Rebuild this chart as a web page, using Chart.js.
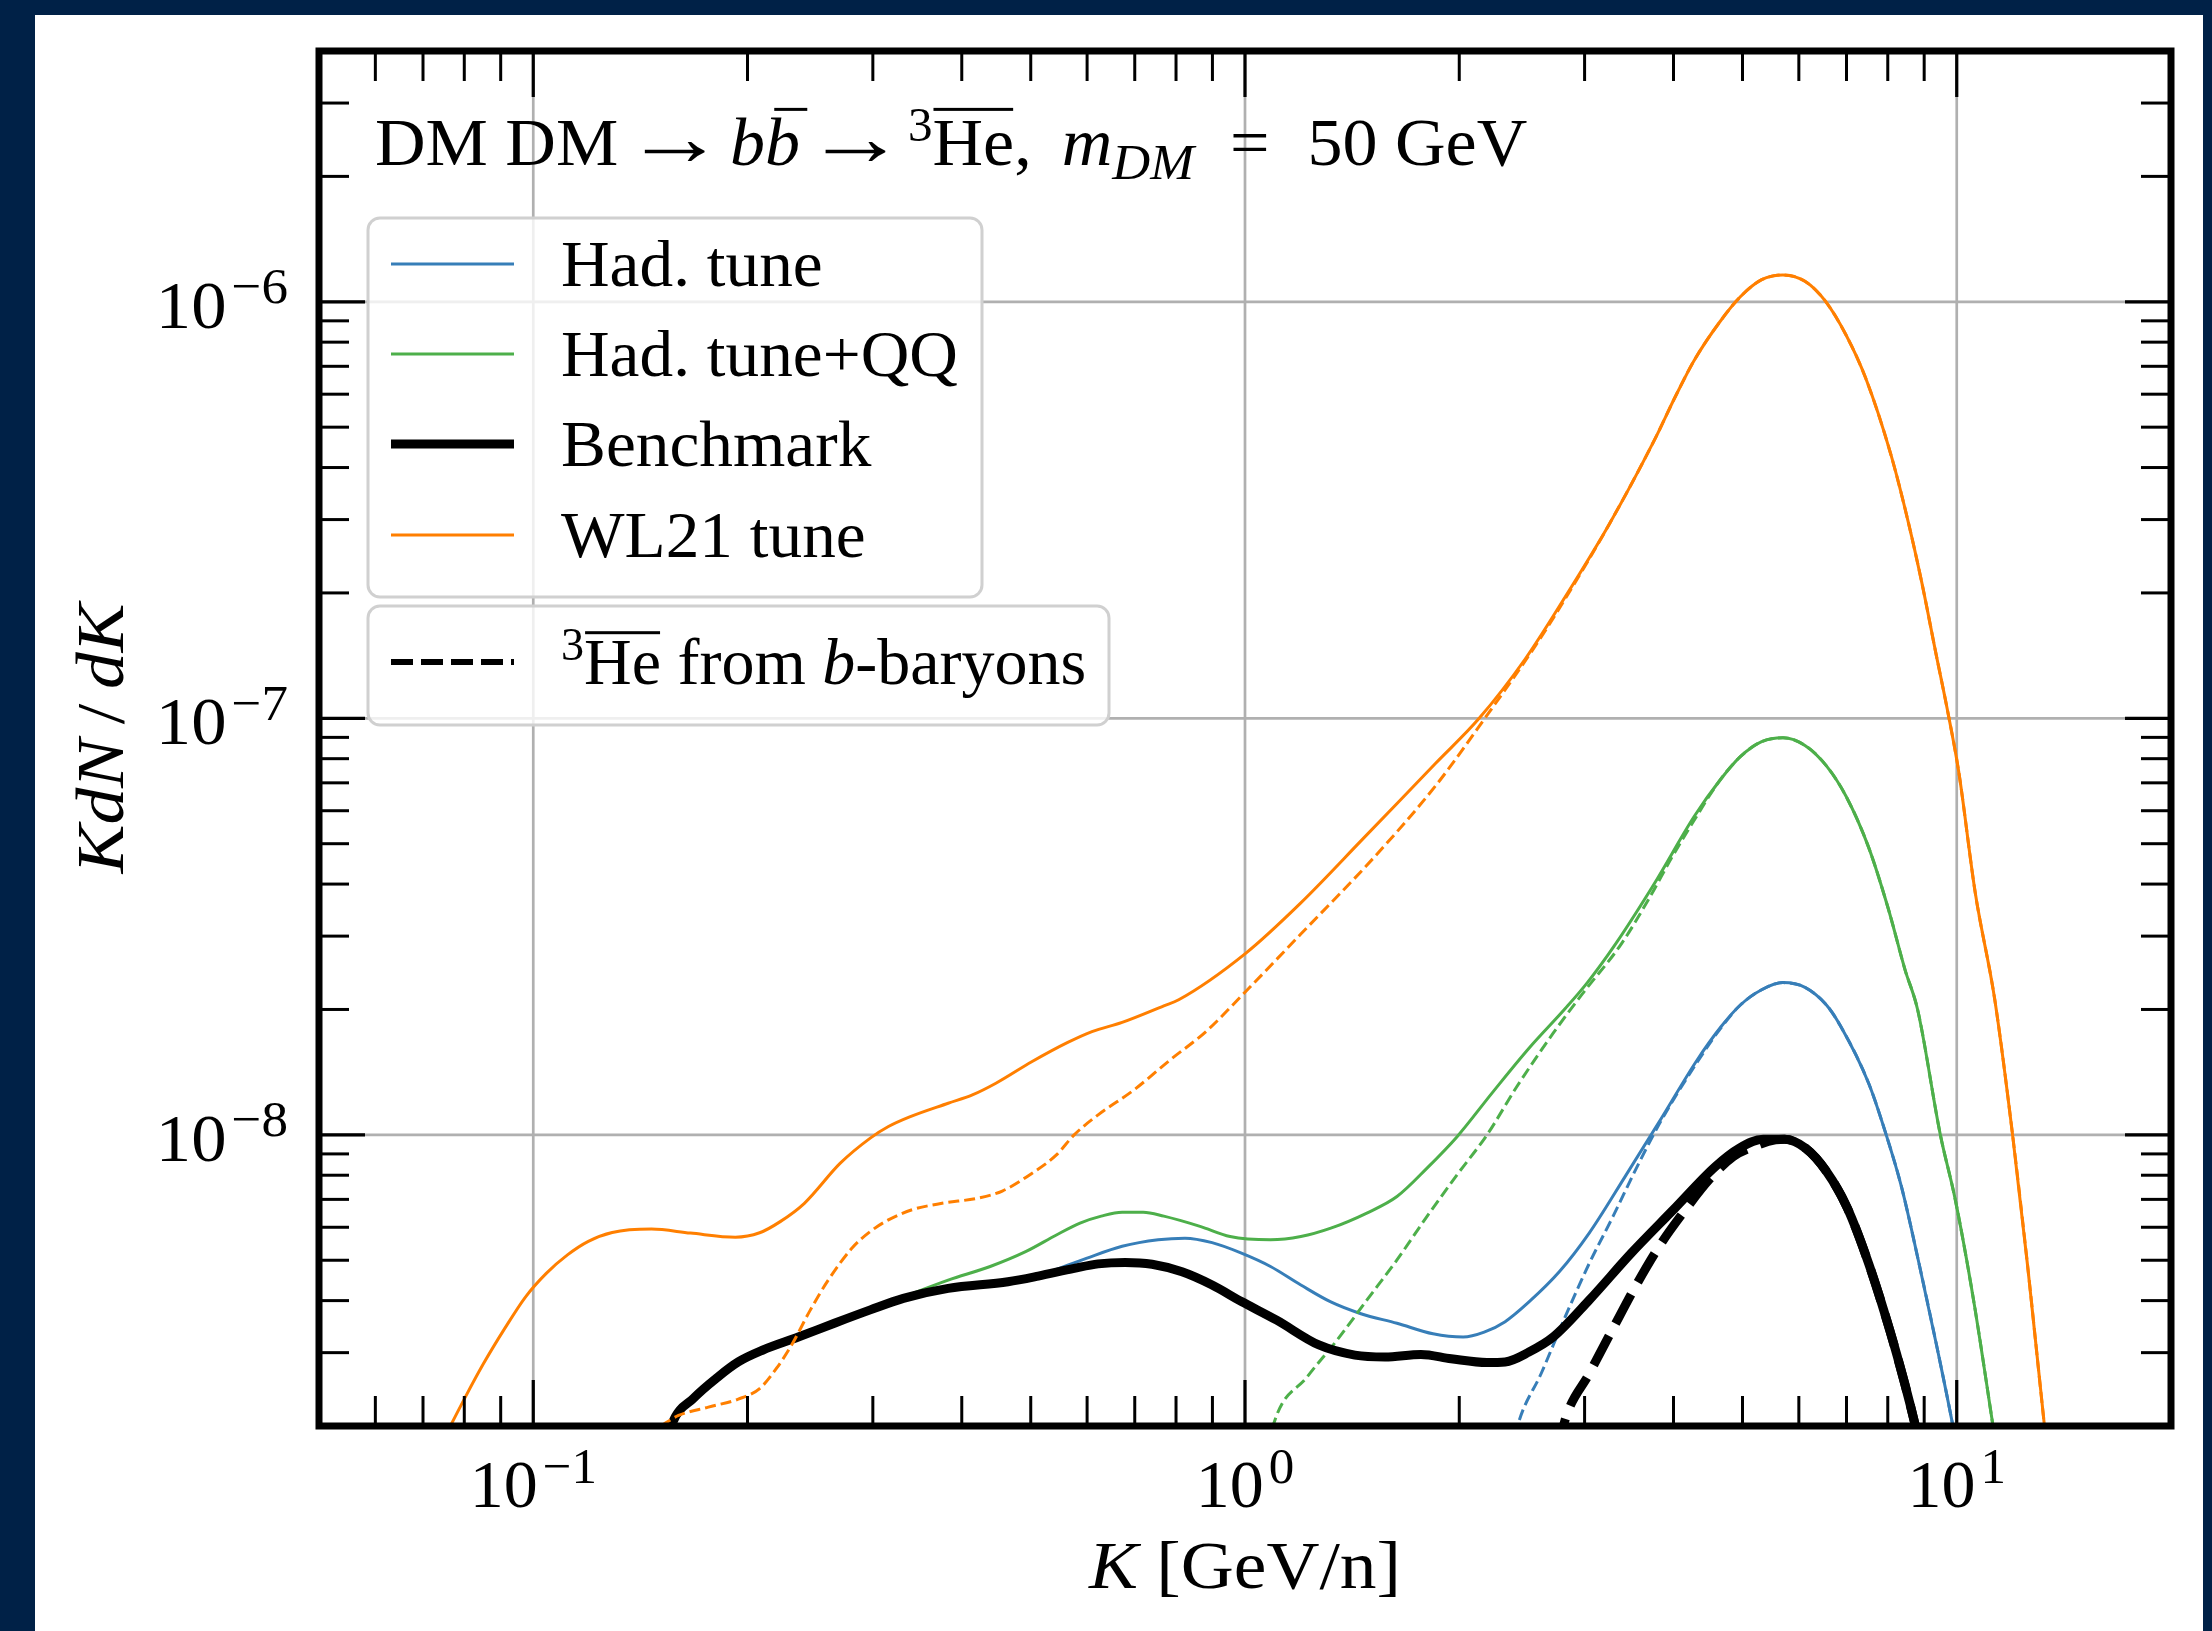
<!DOCTYPE html>
<html>
<head>
<meta charset="utf-8">
<title>Antihelium-3 spectra</title>
<script src="https://cdn.jsdelivr.net/npm/chart.js@4.4.1/dist/chart.umd.min.js"></script>
<style>
  html, body { margin: 0; padding: 0; background: #002147; overflow: hidden; }
  #panel { position: absolute; left: 35px; top: 15px; width: 2168px; height: 1616px; background: #ffffff; }
  #spectrum { position: absolute; left: 0; top: 0; }
</style>
</head>
<body>
<div id="panel"></div>
<canvas id="spectrum" width="2212" height="1631"></canvas>
<script>
// K [GeV/n] and K dN/dK for each tune

// Benchmark
const benchK = [0.1531, 0.1568, 0.1679, 0.1816, 0.1941, 0.2099, 0.2357, 0.2649, 0.2975, 0.3311, 0.3828, 0.4645, 0.5122, 0.5754, 0.6218, 0.6785, 0.7404, 0.8156, 0.899, 0.9886, 1.108, 1.27, 1.427, 1.573, 1.767, 1.948, 2.188, 2.32, 2.506, 2.71, 3.045, 3.489, 3.998, 4.579, 4.95, 5.346, 5.728, 6.13, 6.56, 7.02, 7.52, 8.05, 8.45, 8.73, 8.91];
const benchVals = [1.74e-9, 2.03e-9, 2.33e-9, 2.62e-9, 2.85e-9, 3.04e-9, 3.27e-9, 3.53e-9, 3.80e-9, 4.05e-9, 4.28e-9, 4.44e-9, 4.58e-9, 4.78e-9, 4.90e-9, 4.94e-9, 4.89e-9, 4.69e-9, 4.36e-9, 3.98e-9, 3.59e-9, 3.13e-9, 2.96e-9, 2.93e-9, 2.97e-9, 2.90e-9, 2.84e-9, 2.85e-9, 3.01e-9, 3.27e-9, 4.01e-9, 5.20e-9, 6.61e-9, 8.39e-9, 9.29e-9, 9.76e-9, 9.76e-9, 9.29e-9, 8.17e-9, 6.67e-9, 4.91e-9, 3.40e-9, 2.53e-9, 2.03e-9, 1.74e-9];
const benchBaryonK = [2.754, 2.817, 3.045, 3.289, 3.556, 3.846, 4.156, 4.487, 4.853, 5.195, 5.56, 5.728, 6.13, 6.56, 7.02, 7.52, 8.05, 8.45, 8.73, 8.91];
const benchBaryonVals = [1.74e-9, 2.07e-9, 2.67e-9, 3.43e-9, 4.40e-9, 5.50e-9, 6.61e-9, 7.80e-9, 8.87e-9, 9.38e-9, 9.73e-9, 9.76e-9, 9.29e-9, 8.17e-9, 6.67e-9, 4.91e-9, 3.40e-9, 2.53e-9, 2.03e-9, 1.74e-9];

// Had. tune
const hadK = [0.1531, 0.1568, 0.1679, 0.1816, 0.1941, 0.2099, 0.2357, 0.2649, 0.2975, 0.3311, 0.3828, 0.4645, 0.5122, 0.5483, 0.5984, 0.672, 0.7551, 0.8235, 0.899, 0.9886, 1.086, 1.198, 1.32, 1.455, 1.635, 1.837, 2.025, 2.168, 2.32, 2.506, 2.764, 3.045, 3.42, 3.846, 4.32, 4.667, 4.966, 5.32, 5.70, 6.12, 6.56, 6.86, 7.52, 7.96, 8.36, 8.87, 9.40, 9.86, 10.07];
const hadVals = [1.74e-9, 2.03e-9, 2.33e-9, 2.62e-9, 2.85e-9, 3.04e-9, 3.27e-9, 3.53e-9, 3.80e-9, 4.05e-9, 4.28e-9, 4.44e-9, 4.58e-9, 4.78e-9, 5.05e-9, 5.40e-9, 5.60e-9, 5.65e-9, 5.51e-9, 5.20e-9, 4.83e-9, 4.36e-9, 3.97e-9, 3.72e-9, 3.53e-9, 3.33e-9, 3.27e-9, 3.36e-9, 3.56e-9, 3.97e-9, 4.69e-9, 5.81e-9, 7.94e-9, 1.096e-8, 1.515e-8, 1.82e-8, 2.05e-8, 2.23e-8, 2.32e-8, 2.26e-8, 2.05e-8, 1.83e-8, 1.33e-8, 1.0e-8, 7.52e-9, 4.83e-9, 3.04e-9, 2.03e-9, 1.66e-9];
const hadBaryonK = [2.371, 2.421, 2.606, 2.818, 3.045, 3.289, 3.556, 3.846, 4.32, 4.667, 4.966, 5.32, 5.70, 6.12, 6.56, 6.86, 7.52, 7.96, 8.36, 8.87, 9.40, 9.86, 10.07];
const hadBaryonVals = [1.74e-9, 2.03e-9, 2.67e-9, 3.66e-9, 4.91e-9, 6.37e-9, 8.39e-9, 1.084e-8, 1.496e-8, 1.81e-8, 2.05e-8, 2.23e-8, 2.32e-8, 2.26e-8, 2.05e-8, 1.83e-8, 1.33e-8, 1.0e-8, 7.52e-9, 4.83e-9, 3.04e-9, 2.03e-9, 1.66e-9];

// Had. tune+QQ
const qqK = [0.1531, 0.1568, 0.1679, 0.1816, 0.1941, 0.2099, 0.2357, 0.2649, 0.2975, 0.3311, 0.3828, 0.4385, 0.4926, 0.5433, 0.5864, 0.6281, 0.672, 0.7194, 0.769, 0.8646, 0.9528, 1.086, 1.198, 1.32, 1.483, 1.635, 1.802, 1.986, 2.232, 2.506, 2.818, 3.027, 3.315, 3.766, 4.276, 4.642, 4.965, 5.32, 5.70, 6.12, 6.56, 6.99, 7.52, 8.01, 8.46, 8.81, 9.484, 9.954, 10.56, 11.23, 11.48];
const qqVals = [1.74e-9, 2.03e-9, 2.33e-9, 2.62e-9, 2.85e-9, 3.04e-9, 3.27e-9, 3.53e-9, 3.80e-9, 4.08e-9, 4.48e-9, 4.83e-9, 5.25e-9, 5.75e-9, 6.14e-9, 6.38e-9, 6.52e-9, 6.52e-9, 6.38e-9, 6.03e-9, 5.70e-9, 5.60e-9, 5.70e-9, 5.97e-9, 6.49e-9, 7.11e-9, 8.32e-9, 9.9e-9, 1.27e-8, 1.614e-8, 2.01e-8, 2.32e-8, 2.87e-8, 4.03e-8, 5.81e-8, 7.08e-8, 8.09e-8, 8.79e-8, 8.98e-8, 8.61e-8, 7.69e-8, 6.50e-8, 4.90e-8, 3.50e-8, 2.49e-8, 2.0e-8, 1.0e-8, 6.98e-9, 4.01e-9, 2.03e-9, 1.58e-9];
const qqBaryonK = [1.072, 1.098, 1.222, 1.346, 1.483, 1.635, 1.802, 1.986, 2.188, 2.41, 2.71, 2.985, 3.377, 3.698, 3.977, 4.276, 4.642, 4.965, 5.32, 5.70, 6.12, 6.56, 6.99, 7.52, 8.01, 8.46, 8.81, 9.484, 9.954, 10.56, 11.23, 11.48];
const qqBaryonVals = [1.66e-9, 2.03e-9, 2.62e-9, 3.21e-9, 4.01e-9, 5.01e-9, 6.37e-9, 8.02e-9, 1.0e-8, 1.306e-8, 1.754e-8, 2.19e-8, 2.87e-8, 3.70e-8, 4.63e-8, 5.69e-8, 7.08e-8, 8.09e-8, 8.79e-8, 8.98e-8, 8.61e-8, 7.69e-8, 6.50e-8, 4.90e-8, 3.50e-8, 2.49e-8, 2.0e-8, 1.0e-8, 6.98e-9, 4.01e-9, 2.03e-9, 1.58e-9];

// WL21 tune
const wlK = [0.0741, 0.0803, 0.0851, 0.0912, 0.0975, 0.1043, 0.1117, 0.1195, 0.1291, 0.1466, 0.1663, 0.1923, 0.208, 0.2223, 0.2404, 0.27, 0.2975, 0.3155, 0.3373, 0.3828, 0.414, 0.4467, 0.5023, 0.5636, 0.6095, 0.672, 0.769, 0.807, 1.0, 1.197, 1.462, 1.853, 2.133, 2.477, 2.814, 3.255, 3.766, 4.01, 4.276, 4.642, 4.965, 5.32, 5.70, 6.12, 6.53, 6.99, 7.45, 8.08, 8.54, 8.93, 9.35, 9.70, 10.06, 10.62, 11.31, 11.98, 12.58, 13.27, 13.65];
const wlVals = [1.80e-9, 2.35e-9, 2.82e-9, 3.43e-9, 4.08e-9, 4.65e-9, 5.15e-9, 5.55e-9, 5.83e-9, 5.94e-9, 5.81e-9, 5.68e-9, 5.82e-9, 6.19e-9, 6.85e-9, 8.55e-9, 9.82e-9, 1.047e-8, 1.103e-8, 1.191e-8, 1.247e-8, 1.33e-8, 1.50e-8, 1.667e-8, 1.77e-8, 1.862e-8, 2.04e-8, 2.11e-8, 2.72e-8, 3.60e-8, 5.12e-8, 7.80e-8, 1.0e-7, 1.39e-7, 1.95e-7, 2.94e-7, 4.68e-7, 5.85e-7, 7.23e-7, 8.93e-7, 1.028e-6, 1.13e-6, 1.16e-6, 1.12e-6, 1.006e-6, 8.32e-7, 6.55e-7, 4.30e-7, 2.98e-7, 2.12e-7, 1.43e-7, 1.05e-7, 7.48e-8, 3.80e-8, 2.11e-8, 1.0e-8, 4.83e-9, 2.03e-9, 1.32e-9];
const wlBaryonK = [0.145, 0.1532, 0.16, 0.1762, 0.1941, 0.208, 0.2203, 0.2312, 0.2449, 0.2597, 0.2805, 0.2975, 0.3155, 0.3406, 0.3753, 0.4217, 0.456, 0.5023, 0.5433, 0.5754, 0.6218, 0.6982, 0.7852, 0.8814, 1.0, 1.197, 1.517, 1.853, 2.178, 2.57, 2.814, 3.255, 3.766, 4.01, 4.276, 4.642, 4.965, 5.32, 5.70, 6.12, 6.53, 6.99, 7.45, 8.08, 8.54, 8.93, 9.35, 9.70, 10.06, 10.62, 11.31, 11.98, 12.58, 13.27, 13.65];
const wlBaryonVals = [1.90e-9, 2.03e-9, 2.12e-9, 2.22e-9, 2.32e-9, 2.46e-9, 2.77e-9, 3.15e-9, 3.79e-9, 4.48e-9, 5.35e-9, 5.86e-9, 6.25e-9, 6.61e-9, 6.85e-9, 7.05e-9, 7.33e-9, 8.09e-9, 8.95e-9, 1.0e-8, 1.117e-8, 1.282e-8, 1.514e-8, 1.77e-8, 2.2e-8, 3.03e-8, 4.63e-8, 6.89e-8, 1.006e-7, 1.51e-7, 1.93e-7, 2.94e-7, 4.68e-7, 5.85e-7, 7.23e-7, 8.93e-7, 1.028e-6, 1.13e-6, 1.16e-6, 1.12e-6, 1.006e-6, 8.32e-7, 6.55e-7, 4.30e-7, 2.98e-7, 2.12e-7, 1.43e-7, 1.05e-7, 7.48e-8, 3.80e-8, 2.11e-8, 1.0e-8, 4.83e-9, 2.03e-9, 1.32e-9];

// axis ticks
const xMajor = [0.1, 1, 10];
const xMajorExp = ['\u22121', '0', '1'];
const xMinor = [0.05, 0.06, 0.07, 0.08, 0.09, 0.2, 0.3, 0.4, 0.5, 0.6, 0.7, 0.8, 0.9, 2, 3, 4, 5, 6, 7, 8, 9];
const yMajor = [1e-8, 1e-7, 1e-6];
const yMajorExp = ['\u22128', '\u22127', '\u22126'];
const yMinor = [3e-9, 4e-9, 5e-9, 6e-9, 7e-9, 8e-9, 9e-9, 2e-8, 3e-8, 4e-8, 5e-8, 6e-8, 7e-8, 8e-8, 9e-8, 2e-7, 3e-7, 4e-7, 5e-7, 6e-7, 7e-7, 8e-7, 9e-7, 2e-6, 3e-6];

const BLUE = '#377eb8';
const GREEN = '#4daf4a';
const ORANGE = '#ff7f00';
const SERIF = '"Liberation Serif", "DejaVu Serif", serif';
const ARROW = { t: '\u2192', k: 1.2, sx: 1.2 };

function pts(ks, vs) {
  return ks.map((k, i) => ({ x: k, y: vs[i] }));
}

function series(data, color, width, dash, order) {
  return {
    data: data,
    borderColor: color,
    borderWidth: width,
    borderDash: dash,
    borderCapStyle: 'butt',
    borderJoinStyle: 'round',
    cubicInterpolationMode: 'monotone',
    pointRadius: 0,
    fill: false,
    order: order
  };
}

// --- text with italics, super/subscripts and overbars ---
function font(r, size) {
  return (r.it ? 'italic ' : '') + size + 'px ' + (r.fam || SERIF);
}

function runSize(r, size) {
  if (r.k) return size * r.k;
  return (r.sup || r.sub) ? size * 0.7 : size;
}

function runsWidth(ctx, runs, size, sx) {
  let w = 0;
  runs.forEach(r => {
    if (r.gap) { w += r.gap; return; }
    ctx.font = font(r, runSize(r, size));
    w += ctx.measureText(r.t).width * sx * (r.sx || 1);
  });
  return w;
}

function drawRuns(ctx, runs, x, y, size, align, sx) {
  sx = sx || 1;
  const total = runsWidth(ctx, runs, size, sx);
  let cx = x;
  if (align === 'center') cx = x - total / 2;
  if (align === 'right') cx = x - total;
  ctx.textBaseline = 'alphabetic';
  ctx.textAlign = 'left';
  runs.forEach(r => {
    if (r.gap) { cx += r.gap; return; }
    const s = runSize(r, size);
    const rsx = sx * (r.sx || 1);
    ctx.font = font(r, s);
    const dy = r.sup ? -size * 0.36 : (r.sub ? size * 0.2 : 0);
    const w = ctx.measureText(r.t).width * rsx;
    ctx.save();
    ctx.translate(cx, y + dy);
    ctx.scale(rsx, 1);
    ctx.fillText(r.t, 0, 0);
    ctx.restore();
    if (r.bar) {
      const shift = r.it ? s * 0.12 : 0;
      ctx.fillRect(cx + shift + 1, y - size * r.bar, w - 2, 3);
    }
    cx += w;
  });
  return total;
}

function roundBox(ctx, x0, y0, x1, y1, r) {
  ctx.beginPath();
  ctx.moveTo(x0 + r, y0);
  ctx.lineTo(x1 - r, y0);
  ctx.arcTo(x1, y0, x1, y0 + r, r);
  ctx.lineTo(x1, y1 - r);
  ctx.arcTo(x1, y1, x1 - r, y1, r);
  ctx.lineTo(x0 + r, y1);
  ctx.arcTo(x0, y1, x0, y1 - r, r);
  ctx.lineTo(x0, y0 + r);
  ctx.arcTo(x0, y0, x0 + r, y0, r);
  ctx.closePath();
}

const legendRows = [
  { label: [{ t: 'Had. tune' }], color: BLUE, width: 3, y: 264 },
  { label: [{ t: 'Had. tune+QQ' }], color: GREEN, width: 3, y: 354 },
  { label: [{ t: 'Benchmark' }], color: '#000', width: 9, y: 444 },
  { label: [{ t: 'WL21 tune' }], color: ORANGE, width: 3, y: 535 }
];

const frameAndText = {
  id: 'frameAndText',
  beforeDatasetsDraw(chart) {
    const { ctx, chartArea: a, scales: { x, y } } = chart;
    ctx.save();
    ctx.strokeStyle = '#b0b0b0';
    ctx.lineWidth = 2.7;
    xMajor.forEach(v => {
      const px = x.getPixelForValue(v);
      ctx.beginPath(); ctx.moveTo(px, a.top); ctx.lineTo(px, a.bottom); ctx.stroke();
    });
    yMajor.forEach(v => {
      const py = y.getPixelForValue(v);
      ctx.beginPath(); ctx.moveTo(a.left, py); ctx.lineTo(a.right, py); ctx.stroke();
    });
    ctx.restore();
  },
  afterDatasetsDraw(chart) {
    const { ctx, chartArea: a, scales: { x, y } } = chart;
    ctx.save();
    ctx.strokeStyle = '#000';
    ctx.fillStyle = '#000';
    ctx.lineCap = 'butt';

    // ticks on all four sides, pointing inwards
    const seg = (x0, y0, x1, y1) => { ctx.beginPath(); ctx.moveTo(x0, y0); ctx.lineTo(x1, y1); ctx.stroke(); };
    ctx.lineWidth = 3.2;
    xMajor.forEach(v => { const p = x.getPixelForValue(v); seg(p, a.bottom, p, a.bottom - 46); seg(p, a.top, p, a.top + 46); });
    yMajor.forEach(v => { const p = y.getPixelForValue(v); seg(a.left, p, a.left + 46, p); seg(a.right, p, a.right - 46, p); });
    ctx.lineWidth = 3;
    xMinor.forEach(v => { const p = x.getPixelForValue(v); seg(p, a.bottom, p, a.bottom - 30); seg(p, a.top, p, a.top + 30); });
    yMinor.forEach(v => { const p = y.getPixelForValue(v); seg(a.left, p, a.left + 30, p); seg(a.right, p, a.right - 30, p); });

    // frame
    ctx.lineWidth = 7;
    ctx.lineJoin = 'miter';
    ctx.strokeRect(a.left, a.top, a.right - a.left, a.bottom - a.top);

    // tick labels
    const tickSize = 68;
    xMajor.forEach((v, i) => {
      drawRuns(ctx, [{ t: '10' }, { gap: 5 }, { t: xMajorExp[i], sup: true, k: 0.75 }], x.getPixelForValue(v), a.bottom + 81, tickSize, 'center');
    });
    yMajor.forEach((v, i) => {
      drawRuns(ctx, [{ t: '10' }, { gap: 5 }, { t: yMajorExp[i], sup: true, k: 0.75 }], a.left - 31, y.getPixelForValue(v) + 26, tickSize, 'right', 1.04);
    });

    // axis titles
    drawRuns(ctx, [{ t: 'K', it: true }, { t: ' [GeV/n]' }], (a.left + a.right) / 2, 1588, 68, 'center', 1.08);
    ctx.save();
    ctx.translate(123, (a.top + a.bottom) / 2);
    ctx.rotate(-Math.PI / 2);
    drawRuns(ctx, [{ t: 'KdN', it: true }, { t: '\u2009/\u2009' }, { t: 'dK', it: true }], 0, 0, 68, 'center', 1.08);
    ctx.restore();

    // annotation
    drawRuns(ctx, [
      { t: 'DM DM' }, { gap: 6 }, ARROW, { gap: 5 }, { t: 'b', it: true }, { t: 'b', it: true, bar: 0.84 },
      { gap: 5 }, ARROW, { gap: 2 }, { t: '3', sup: true }, { t: 'He', bar: 0.84 }, { t: ',' },
      { gap: 30 }, { t: 'm', it: true }, { t: 'DM', it: true, sub: true, k: 0.75 }, { gap: 36 }, { t: '=' }, { gap: 38 }, { t: '50 GeV' }
    ], 375, 165, 68, 'left', 1.03);

    // legend boxes
    const boxes = [[368, 218, 982, 597], [368, 606, 1109, 725]];
    boxes.forEach(b => {
      roundBox(ctx, b[0], b[1], b[2], b[3], 12);
      ctx.fillStyle = 'rgba(255,255,255,0.8)';
      ctx.fill();
      ctx.lineWidth = 3;
      ctx.strokeStyle = '#d0d0d0';
      ctx.stroke();
    });
    ctx.fillStyle = '#000';
    const legendSize = 66;
    legendRows.forEach(r => {
      ctx.strokeStyle = r.color;
      ctx.lineWidth = r.width;
      seg(391, r.y, 514, r.y);
      drawRuns(ctx, r.label, 561, r.y + 22, legendSize, 'left', 1.02);
    });
    ctx.strokeStyle = '#000';
    ctx.lineWidth = 6;
    ctx.setLineDash([22, 8]);
    seg(391, 662, 514, 662);
    ctx.setLineDash([]);
    drawRuns(ctx, [{ t: '3', sup: true }, { t: 'He', bar: 0.8 }, { t: ' from ' }, { t: 'b', it: true }, { t: '-baryons' }], 561, 684, legendSize, 'left', 1.0);

    ctx.restore();
  }
};

const dashThin = [11, 5];
const dashThick = [33, 14];

new Chart(document.getElementById('spectrum').getContext('2d'), {
  type: 'line',
  data: {
    datasets: [
      series(pts(hadK, hadVals), BLUE, 3, [], 8),
      series(pts(hadBaryonK, hadBaryonVals), BLUE, 3, dashThin, 7),
      series(pts(qqK, qqVals), GREEN, 3, [], 6),
      series(pts(qqBaryonK, qqBaryonVals), GREEN, 3, dashThin, 5),
      series(pts(benchK, benchVals), '#000000', 9, [], 4),
      series(pts(benchBaryonK, benchBaryonVals), '#000000', 9, dashThick, 3),
      series(pts(wlK, wlVals), ORANGE, 3, [], 2),
      series(pts(wlBaryonK, wlBaryonVals), ORANGE, 3, dashThin, 1)
    ]
  },
  options: {
    responsive: false,
    animation: false,
    devicePixelRatio: 1,
    layout: { padding: { left: 319, top: 51, right: 41, bottom: 205 } },
    plugins: { legend: { display: false }, tooltip: { enabled: false } },
    scales: {
      x: { type: 'logarithmic', min: 0.05, max: 20, display: false },
      y: { type: 'logarithmic', min: 2e-9, max: 4e-6, display: false }
    }
  },
  plugins: [frameAndText]
});
</script>
</body>
</html>
